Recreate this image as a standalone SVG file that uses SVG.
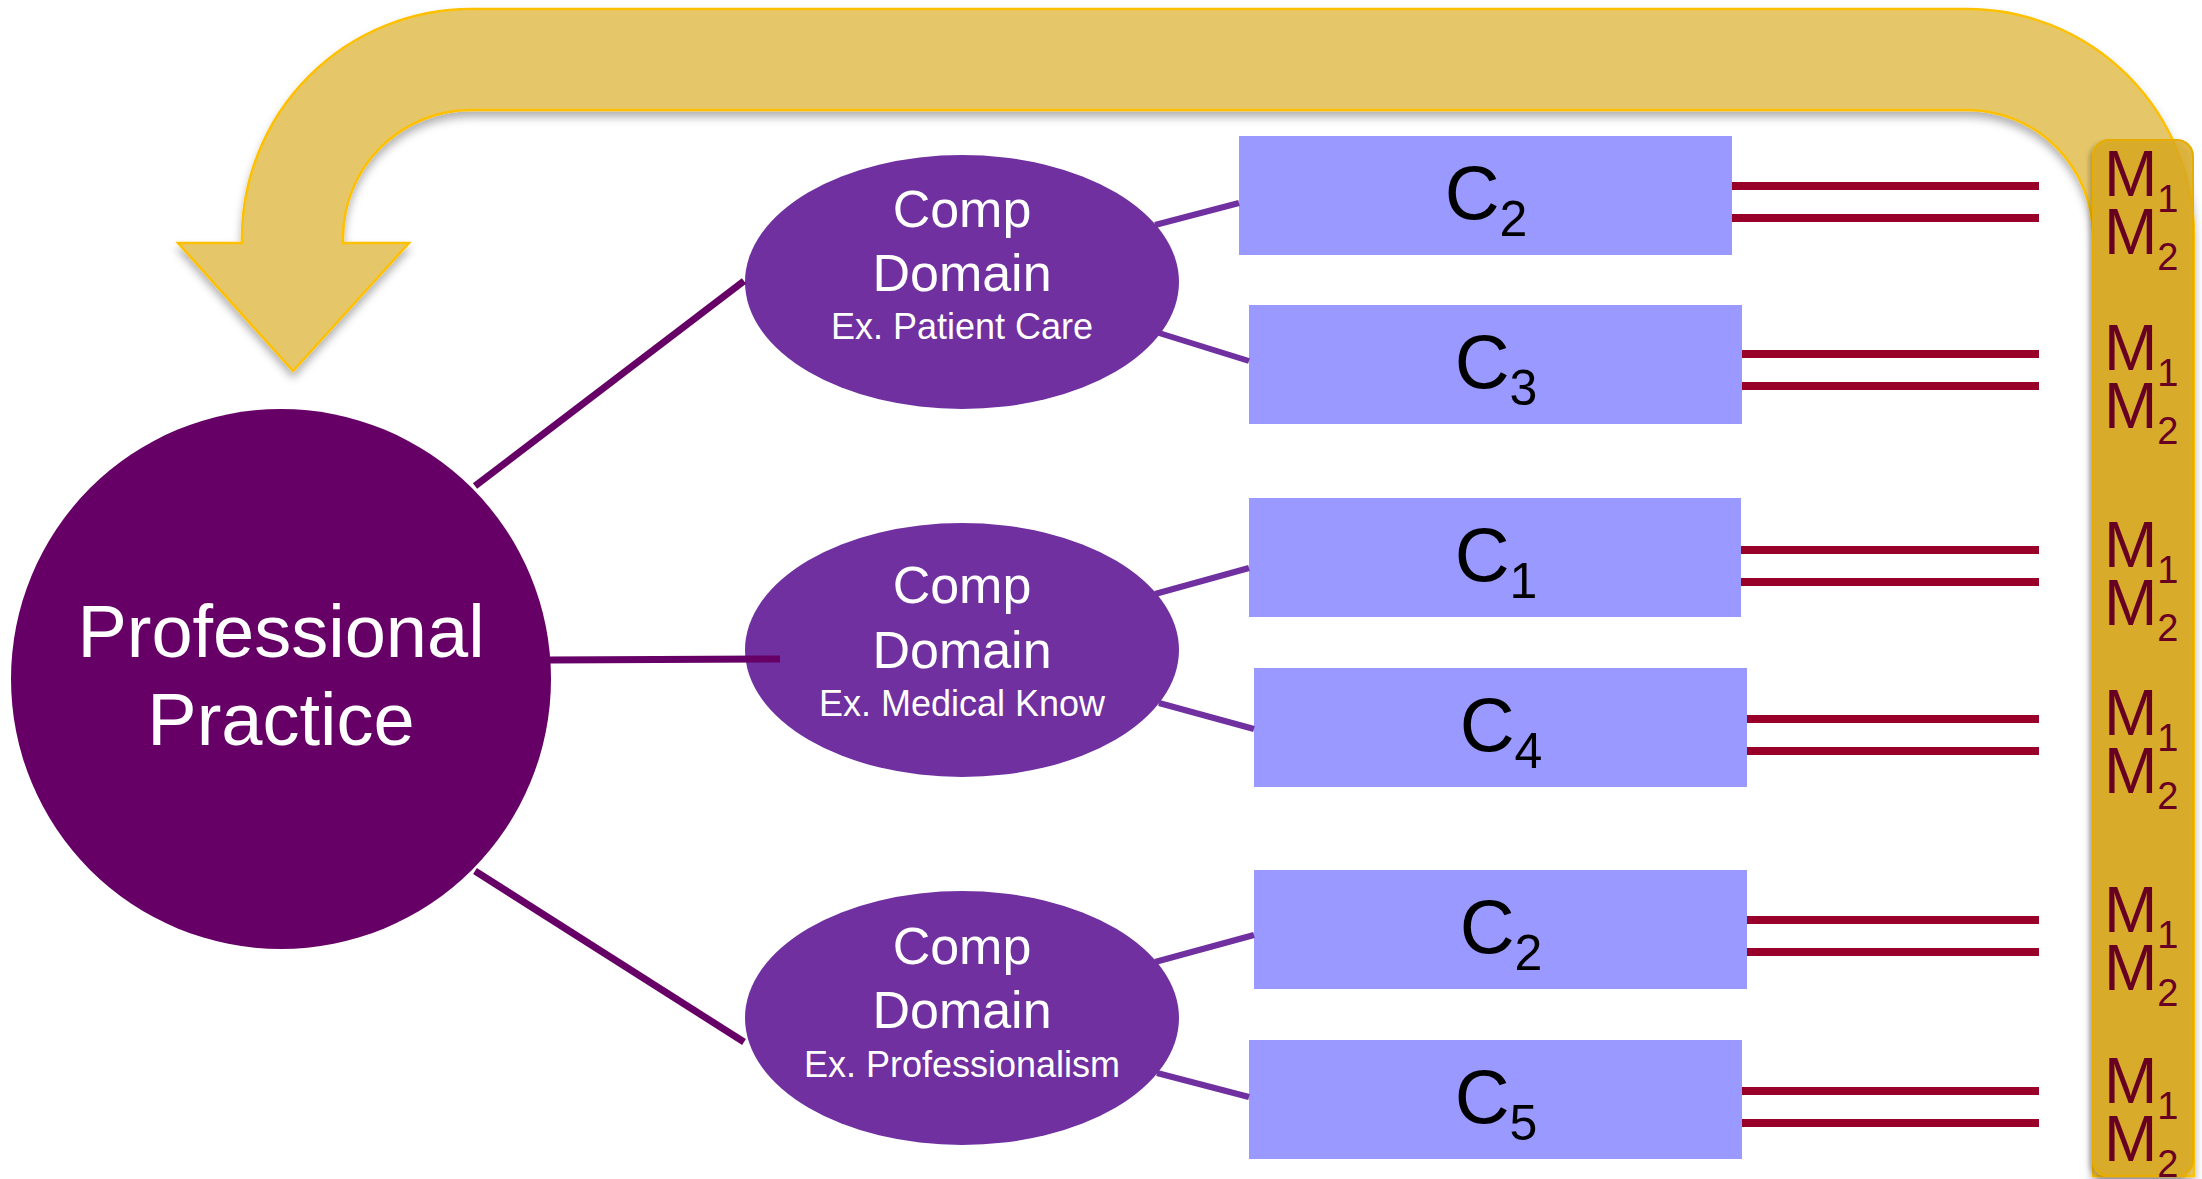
<svg xmlns="http://www.w3.org/2000/svg" width="2202" height="1179" viewBox="0 0 2202 1179">
<defs>
<style>
text{font-family:"Liberation Sans",Arial,Helvetica,sans-serif}
.pp{fill:#660066}
.dom{fill:#7030A0}
.box{fill:#9999FF}
.wt{fill:#FFFFFF;text-anchor:middle}
.big{font-size:52px}
.ex{font-size:36px}
.ct{fill:#000000;font-size:76px;text-anchor:middle}
.cs{font-size:50px}
.mt{fill:#680022;font-size:64px}
.ms{font-size:38px}
.l1{stroke:#660066;stroke-width:7;fill:none}
.l2{stroke:#7030A0;stroke-width:6;fill:none}
.rl{stroke:#990029;stroke-width:8;fill:none}
</style>
<filter id="sh" x="-5%" y="-5%" width="110%" height="115%">
<feDropShadow dx="0" dy="6" stdDeviation="4" flood-color="#000000" flood-opacity="0.3"/>
</filter>
<filter id="sh2" x="-10%" y="-2%" width="120%" height="104%">
<feDropShadow dx="-3" dy="3" stdDeviation="2" flood-color="#000000" flood-opacity="0.25"/>
</filter>
</defs>
<rect width="2202" height="1179" fill="#FFFFFF"/>

<g id="feedback-arrow">
<path filter="url(#sh)" d="M 2093 1176 L 2093 236 A 126 126 0 0 0 1967 110 L 471 110 A 128 128 0 0 0 343 238 L 343 243 L 409 243 L 293 371 L 178 243 L 242 243 L 242 238 A 229 229 0 0 1 471 9 L 1967 9 A 227 227 0 0 1 2194 236 L 2194 1176 Z" fill="#E5C76A" stroke="#FFC000" stroke-width="2.5" stroke-linejoin="miter"/>
</g>

<g id="measures">
<rect x="2093" y="140" width="100" height="1036" rx="16" fill="#DAAA1E" fill-opacity="0.82" stroke="#E8AC00" stroke-width="2" filter="url(#sh2)"/>
<text class="mt" x="2104" y="196">M<tspan class="ms" dy="16">1</tspan></text>
<text class="mt" x="2104" y="254">M<tspan class="ms" dy="16">2</tspan></text>
<text class="mt" x="2104" y="370">M<tspan class="ms" dy="16">1</tspan></text>
<text class="mt" x="2104" y="428">M<tspan class="ms" dy="16">2</tspan></text>
<text class="mt" x="2104" y="567">M<tspan class="ms" dy="16">1</tspan></text>
<text class="mt" x="2104" y="625">M<tspan class="ms" dy="16">2</tspan></text>
<text class="mt" x="2104" y="735">M<tspan class="ms" dy="16">1</tspan></text>
<text class="mt" x="2104" y="793">M<tspan class="ms" dy="16">2</tspan></text>
<text class="mt" x="2104" y="932">M<tspan class="ms" dy="16">1</tspan></text>
<text class="mt" x="2104" y="990">M<tspan class="ms" dy="16">2</tspan></text>
<text class="mt" x="2104" y="1103">M<tspan class="ms" dy="16">1</tspan></text>
<text class="mt" x="2104" y="1161">M<tspan class="ms" dy="16">2</tspan></text>
</g>

<g id="professional-practice">
<circle class="pp" cx="281" cy="679" r="270"/>
<text class="wt" x="281" y="657" font-size="74">Professional</text>
<text class="wt" x="281" y="745" font-size="74">Practice</text>
</g>

<g id="domain-patient-care">
<ellipse class="dom" cx="962" cy="282" rx="217" ry="127"/>
<text class="wt big" x="962" y="227">Comp</text>
<text class="wt big" x="962" y="291">Domain</text>
<text class="wt ex" x="962" y="339">Ex. Patient Care</text>
</g>
<g id="domain-medical-know">
<ellipse class="dom" cx="962" cy="650" rx="217" ry="127"/>
<text class="wt big" x="962" y="603">Comp</text>
<text class="wt big" x="962" y="668">Domain</text>
<text class="wt ex" x="962" y="716">Ex. Medical Know</text>
</g>
<g id="domain-professionalism">
<ellipse class="dom" cx="962" cy="1018" rx="217" ry="127"/>
<text class="wt big" x="962" y="964">Comp</text>
<text class="wt big" x="962" y="1028">Domain</text>
<text class="wt ex" x="962" y="1077">Ex. Professionalism</text>
</g>

<g id="c2-a"><rect class="box" x="1239" y="136" width="493" height="119"/><text class="ct" x="1486" y="219">C<tspan class="cs" dy="17">2</tspan></text></g>
<g id="c3"><rect class="box" x="1249" y="305" width="493" height="119"/><text class="ct" x="1496" y="388">C<tspan class="cs" dy="17">3</tspan></text></g>
<g id="c1"><rect class="box" x="1249" y="498" width="492" height="119"/><text class="ct" x="1496" y="581">C<tspan class="cs" dy="17">1</tspan></text></g>
<g id="c4"><rect class="box" x="1254" y="668" width="493" height="119"/><text class="ct" x="1501" y="751">C<tspan class="cs" dy="17">4</tspan></text></g>
<g id="c2-b"><rect class="box" x="1254" y="870" width="493" height="119"/><text class="ct" x="1501" y="953">C<tspan class="cs" dy="17">2</tspan></text></g>
<g id="c5"><rect class="box" x="1249" y="1040" width="493" height="119"/><text class="ct" x="1496" y="1123">C<tspan class="cs" dy="17">5</tspan></text></g>

<g id="connectors">
<line class="l1" x1="475" y1="486" x2="744" y2="281"/>
<line class="l1" x1="550" y1="660" x2="780" y2="659"/>
<line class="l1" x1="475" y1="871" x2="744" y2="1042"/>
<line class="l2" x1="1155" y1="225" x2="1239" y2="203"/>
<line class="l2" x1="1159" y1="333" x2="1249" y2="361"/>
<line class="l2" x1="1155" y1="594" x2="1249" y2="568"/>
<line class="l2" x1="1159" y1="703" x2="1254" y2="729"/>
<line class="l2" x1="1155" y1="962" x2="1254" y2="935"/>
<line class="l2" x1="1157" y1="1073" x2="1249" y2="1097"/>
<line class="rl" x1="1732" y1="186" x2="2039" y2="186"/>
<line class="rl" x1="1732" y1="218" x2="2039" y2="218"/>
<line class="rl" x1="1742" y1="354" x2="2039" y2="354"/>
<line class="rl" x1="1742" y1="386" x2="2039" y2="386"/>
<line class="rl" x1="1741" y1="550" x2="2039" y2="550"/>
<line class="rl" x1="1741" y1="582" x2="2039" y2="582"/>
<line class="rl" x1="1747" y1="719" x2="2039" y2="719"/>
<line class="rl" x1="1747" y1="751" x2="2039" y2="751"/>
<line class="rl" x1="1747" y1="920" x2="2039" y2="920"/>
<line class="rl" x1="1747" y1="952" x2="2039" y2="952"/>
<line class="rl" x1="1742" y1="1091" x2="2039" y2="1091"/>
<line class="rl" x1="1742" y1="1123" x2="2039" y2="1123"/>
</g>
</svg>
